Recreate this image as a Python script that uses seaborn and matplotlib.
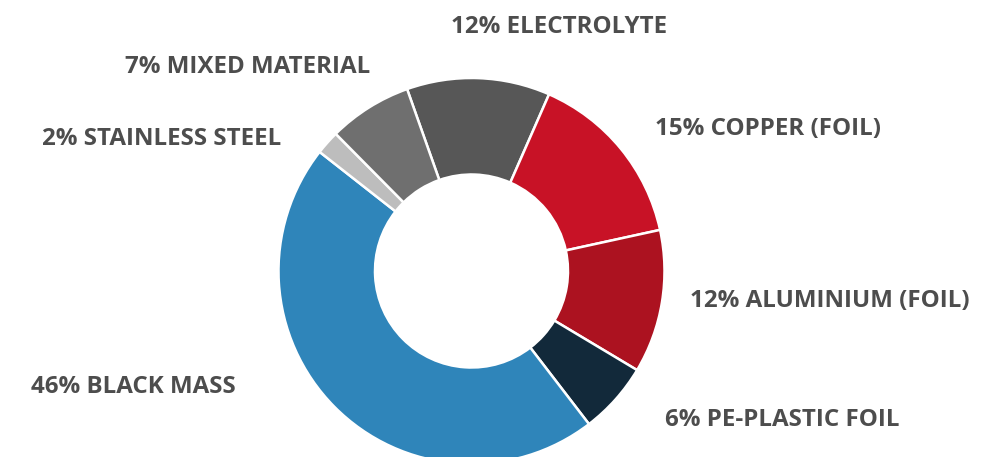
import matplotlib
matplotlib.use("Agg")
import matplotlib.pyplot as plt
import seaborn as sns

# Zusammensetzung der Batterie (Anteile in %)
materials = ["ELECTROLYTE", "COPPER (FOIL)", "ALUMINIUM (FOIL)", "PE-PLASTIC FOIL",
             "BLACK MASS", "STAINLESS STEEL", "MIXED MATERIAL"]
shares = [12, 15, 12, 6, 46, 2, 7]
colors = ["#575757", "#c81226", "#ac1220", "#12293a", "#2f85ba", "#bdbdbd", "#6f6f6f"]

sns.set_theme(style="white")
plt.rcParams["font.family"] = ["Open Sans", "DejaVu Sans"]

W, H = 993, 457
CX, CY, R = 471.5, 271, 193  # Mittelpunkt und Radius in Pixel

fig = plt.figure(figsize=(W / 100, H / 100), dpi=100)
ax = fig.add_axes([0, 0, 1, 1])

ax.pie(shares, colors=colors, startangle=109.5, counterclock=False, radius=1,
       wedgeprops=dict(width=0.5, edgecolor="white", linewidth=1.8))

ax.set_aspect("auto")
ax.set_xlim(-CX / R, (W - CX) / R)
ax.set_ylim(-(H - CY) / R, CY / R)
ax.axis("off")

# Beschriftungen: linke Kante und Grundlinie in Pixel
label_pos = [(451, 33), (655, 135), (690, 307), (665, 426),
             (31, 393), (42, 145), (125, 73)]
for name, val, (px, py) in zip(materials, shares, label_pos):
    ax.text((px - CX) / R, (CY - py) / R, f"{val}% {name}",
            ha="left", va="baseline", fontsize=17.4, fontweight="bold",
            color="#4d4d4d")

fig.savefig("out.png", dpi=100)
